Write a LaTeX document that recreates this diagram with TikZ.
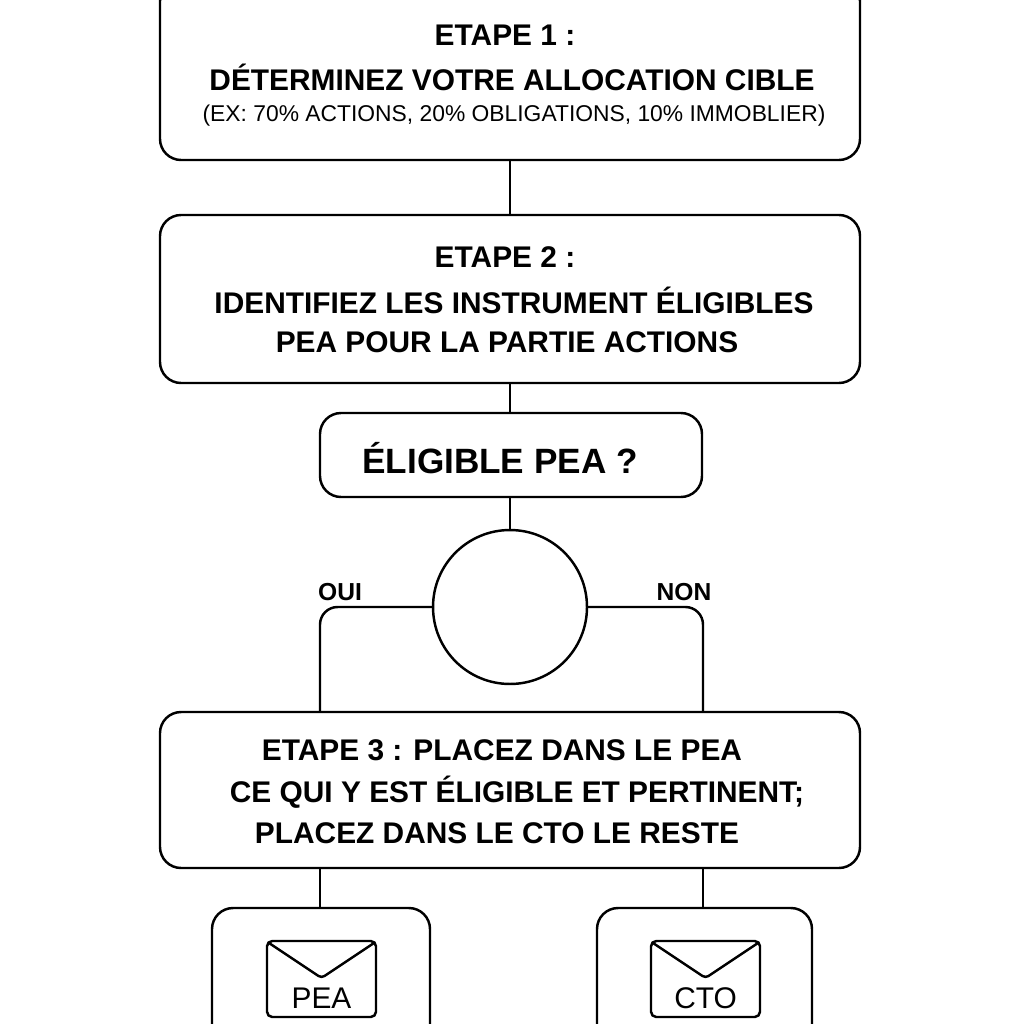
\documentclass[tikz,border=0pt]{standalone}
\usepackage{fontspec}
\setmainfont{Liberation Sans}
\begin{document}
\begin{tikzpicture}[x=0.02cm,y=-0.02cm,
  box/.style={draw,line width=1.4pt,rounded corners=12pt},
  lien/.style={line width=1.4pt},
  txt/.style={font=\fontsize{17}{19}\selectfont\bfseries},
  petit/.style={font=\fontsize{13}{15}\selectfont}]

\useasboundingbox (0,0) rectangle (1024,1024);
\clip (0,0) rectangle (1024,1024);

% boites
\draw[box] (160,-20) rectangle (860,160);
\draw[box] (160,215) rectangle (860,383);
\draw[box] (320,413) rectangle (702,497);
\draw[box] (160,712) rectangle (860,868);
\draw[box] (212,908) rectangle (430,1060);
\draw[box] (597,908) rectangle (812,1060);
\node[draw,line width=1.4pt,circle,minimum size=3.08cm] (rond) at (510,607) {};

% textes
\node[txt] (e1) at (505,35) {ETAPE 1 :};
\node[txt] (e1b) at (512,77) {DÉTERMINEZ VOTRE ALLOCATION CIBLE};
\node[petit] (e1c) at (514,116) {(EX: 70\% ACTIONS, 20\% OBLIGATIONS, 10\% IMMOBLIER)};
\node[txt] (e2) at (505,257) {ETAPE 2 :};
\node[txt] (e2b) at (514,300) {IDENTIFIEZ LES INSTRUMENT ÉLIGIBLES};
\node[txt] (e2c) at (507,342) {PEA POUR LA PARTIE ACTIONS};
\node[font=\fontsize{20}{22}\selectfont\bfseries] (q) at (500,458) {ÉLIGIBLE PEA ?};
\node[font=\fontsize{14}{16}\selectfont\bfseries] (oui) at (340,592) {OUI};
\node[font=\fontsize{14}{16}\selectfont\bfseries] (non) at (684,592) {NON};
\node[txt] (e3) at (502,750) {ETAPE 3 : PLACEZ DANS LE PEA};
\node[txt] (e3b) at (517,792) {CE QUI Y EST ÉLIGIBLE ET PERTINENT;};
\node[txt] (e3c) at (497,833) {PLACEZ DANS LE CTO LE RESTE};

% liens
\draw[lien] (510,160) -- (510,215);
\draw[lien] (510,383) -- (510,413);
\draw[lien] (510,497) -- (rond.north);
\draw[lien,rounded corners=10pt] (rond.west) -- (320,607) -- (320,712);
\draw[lien,rounded corners=10pt] (rond.east) -- (703,607) -- (703,712);
\draw[lien] (320,868) -- (320,908);
\draw[lien] (703,868) -- (703,908);

% enveloppes
\foreach \ex/\nom in {267/PEA,651/CTO}{
  \draw[lien,rounded corners=3pt] (\ex,941) rectangle (\ex+109,1017);
  \draw[lien,rounded corners=2pt] (\ex+2,943) -- (\ex+54.5,978) -- (\ex+107,943);
  \node[font=\fontsize{17}{19}\selectfont] at (\ex+54.5,998) {\nom};
}
\end{tikzpicture}
\end{document}
